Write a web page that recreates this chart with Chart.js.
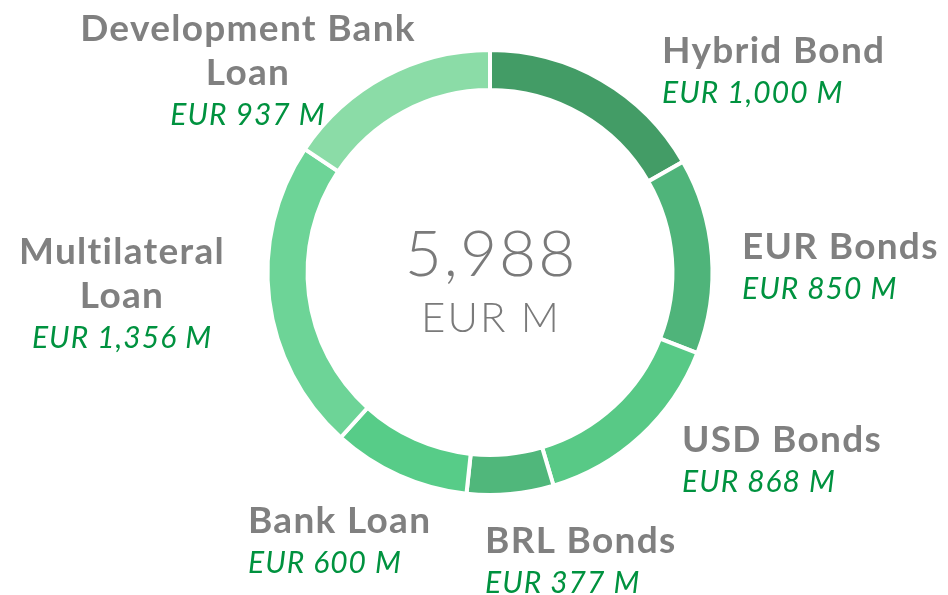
<!DOCTYPE html>
<html>
<head>
  <title>Debt Structure</title>
  <script src="https://cdn.jsdelivr.net/npm/chart.js"></script>
  <style>
    body { margin: 0; background: #ffffff; }
    #wrap { width: 948px; height: 595px; }
  </style>
</head>
<body>
  <div id="wrap"><canvas id="chart" width="948" height="595"></canvas></div>

  <script>
    // data
    const categories = ['Hybrid Bond', 'EUR Bonds', 'USD Bonds', 'BRL Bonds', 'Bank Loan', 'Multilateral Loan', 'Development Bank Loan'];
    const amounts = [1000, 850, 868, 377, 600, 1356, 937];
    const totalLabel = 'EUR M';

    const colors = ['#439c66', '#4fb47a', '#58c986', '#50b77b', '#57cc88', '#6dd497', '#8bdca7'];

    // label layout: lines of the name, anchor x, y of first line, alignment
    const labelLayout = [
      { lines: ['Hybrid Bond'], x: 662, y: 51, align: 'left' },
      { lines: ['EUR Bonds'], x: 742, y: 247, align: 'left' },
      { lines: ['USD Bonds'], x: 682, y: 440, align: 'left' },
      { lines: ['BRL Bonds'], x: 485, y: 541, align: 'left' },
      { lines: ['Bank Loan'], x: 248, y: 521, align: 'left' },
      { lines: ['Multilateral', 'Loan'], x: 122, y: 252, align: 'center' },
      { lines: ['Development Bank', 'Loan'], x: 248, y: 29, align: 'center' }
    ];

    const fmt = v => v.toLocaleString('en-US');

    const labelsPlugin = {
      id: 'labels',
      afterDraw(chart) {
        const ctx = chart.ctx;
        const meta = chart.getDatasetMeta(0);
        const arc = meta.data[0];
        ctx.save();
        ctx.textBaseline = 'middle';
        labelLayout.forEach((l, i) => {
          ctx.textAlign = l.align;
          ctx.fillStyle = '#808080';
          ctx.font = 'bold 37px Lato';
          ctx.letterSpacing = '1.3px';
          l.lines.forEach((t, j) => ctx.fillText(t, l.x, l.y + j * 44));
          ctx.fillStyle = '#00923f';
          ctx.font = 'italic 30px Lato';
          ctx.letterSpacing = '1px';
          ctx.fillText('EUR ' + fmt(chart.data.datasets[0].data[i]) + ' M', l.x, l.y + l.lines.length * 44 - 2);
        });
        // centre total
        const total = chart.data.datasets[0].data.reduce((a, b) => a + b, 0);
        ctx.textAlign = 'center';
        ctx.fillStyle = '#7a7a7a';
        ctx.letterSpacing = '2px';
        ctx.font = '300 64px Lato';
        ctx.fillText(fmt(total), arc.x + 1, arc.y - 17);
        ctx.font = '300 42px Lato';
        ctx.fillText(totalLabel, arc.x + 1, arc.y + 46);
        ctx.restore();
      }
    };

    new Chart(document.getElementById('chart'), {
      type: 'doughnut',
      data: {
        labels: categories,
        datasets: [{
          data: amounts,
          backgroundColor: colors,
          borderColor: '#ffffff',
          borderWidth: 4
        }]
      },
      options: {
        responsive: false,
        animation: false,
        cutout: '82%',
        layout: { padding: { left: 265, right: 233, top: 48, bottom: 98 } },
        plugins: {
          legend: { display: false },
          tooltip: { enabled: false }
        }
      },
      plugins: [labelsPlugin]
    });
  </script>
</body>
</html>
